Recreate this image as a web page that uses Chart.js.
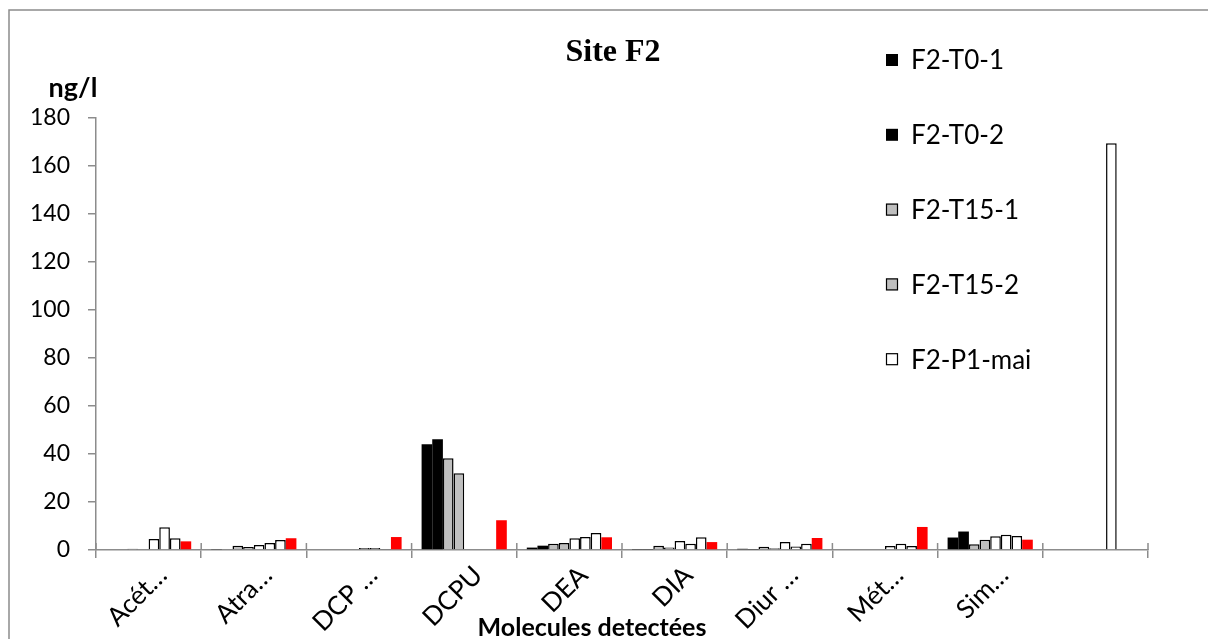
<!DOCTYPE html>
<html>
<head>
<meta charset="utf-8">
<title>Site F2</title>
<script src="https://cdn.jsdelivr.net/npm/chart.js@4"></script>
<style>
  html, body { margin: 0; padding: 0; background: #fff; }
  #wrap { width: 1208px; height: 639px; }
</style>
</head>
<body>
<div id="wrap"><canvas id="chart" width="1208" height="639"></canvas></div>
<script>
// categories (labels truncated as in the original)
const molecules = ['Acét…', 'Atra…', 'DCP …', 'DCPU', 'DEA', 'DIA', 'Diur …', 'Mét…', 'Sim…', ''];

// concentrations in ng/l
const t0_1 = [0.3, 0.4, 0, 44.1, 1.0, 0.2, 0.5, 0, 5.2, 0];
const t0_2 = [0, 0, 0, 46.1, 1.8, 0.2, 0.2, 0, 7.7, 0];
const t15_1 = [0.5, 1.8, 0, 38.2, 2.6, 1.8, 1.4, 0, 2.4, 0];
const t15_2 = [0, 1.3, 0, 32.0, 2.9, 1.0, 0.7, 0, 4.3, 0];
const p1_mai = [4.6, 2.1, 0.8, 0, 4.9, 3.8, 3.3, 1.7, 5.7, 0];
const p2_mai = [9.5, 2.9, 0.8, 0, 5.4, 2.6, 1.5, 2.6, 6.4, 169.5];
const p3_mai = [4.9, 4.2, 0.4, 0, 7.1, 5.3, 2.6, 1.7, 5.8, 0];
const p4_mai = [3.6, 4.9, 5.4, 12.4, 5.3, 3.3, 5.0, 9.6, 4.3, 0];

const yTicks = [0, 20, 40, 60, 80, 100, 120, 140, 160, 180];

const AXIS_GREY = '#8c8c8c';
const FONT = 'Lato, "Open Sans", sans-serif';

function bar(label, values, fill, border) {
  return {
    label: label,
    data: values,
    backgroundColor: fill,
    borderColor: border || fill,
    borderWidth: border ? 1.5 : 0,
    inLegend: true,
  };
}

const datasets = [
  bar('F2-T0-1', t0_1, '#000000'),
  bar('F2-T0-2', t0_2, '#000000'),
  bar('F2-T15-1', t15_1, '#bfbfbf', '#000000'),
  bar('F2-T15-2', t15_2, '#bfbfbf', '#000000'),
  bar('F2-P1-mai', p1_mai, '#ffffff', '#000000'),
  bar('F2-P2-mai', p2_mai, '#ffffff', '#000000'),
  bar('F2-P3-mai', p3_mai, '#ffffff', '#000000'),
  bar('F2-P4-mai', p4_mai, '#ff0000'),
];
// the original legend is cut off after five entries
datasets.slice(5).forEach((d) => { d.inLegend = false; });

// texts, frame and the floating legend drawn on the canvas
const decorations = {
  id: 'decorations',
  afterDraw(chart) {
    const ctx = chart.ctx;
    ctx.save();

    // outer frame (only top and left are inside the picture)
    ctx.strokeStyle = AXIS_GREY;
    ctx.lineWidth = 1.5;
    ctx.beginPath();
    ctx.moveTo(9, 639);
    ctx.lineTo(9, 10);
    ctx.lineTo(1208, 10);
    ctx.stroke();

    // x axis tick marks also reach a little above the axis line
    const x = chart.scales.x;
    ctx.beginPath();
    for (let i = 0; i <= molecules.length; i++) {
      const px = x.left + (x.width * i) / molecules.length;
      ctx.moveTo(px, x.top - 7);
      ctx.lineTo(px, x.top);
    }
    ctx.stroke();

    ctx.fillStyle = '#000';
    ctx.textAlign = 'center';
    ctx.textBaseline = 'alphabetic';
    ctx.font = 'bold 32px "Liberation Serif", "Times New Roman", serif';
    ctx.fillText('Site F2', 613, 61);

    ctx.font = 'bold 27px ' + FONT;
    ctx.fillText('ng/l', 73, 97);

    ctx.font = 'bold 25px ' + FONT;
    ctx.fillText('Molecules detectées', 592, 636);

    // legend
    ctx.textAlign = 'left';
    ctx.textBaseline = 'middle';
    ctx.font = '26px ' + FONT;
    const rows = chart.data.datasets.filter((d) => d.inLegend);
    rows.forEach((d, i) => {
      const y = 60 + i * 74.8;
      ctx.fillStyle = d.backgroundColor;
      ctx.fillRect(886, y - 6, 12, 12);
      if (d.borderWidth) {
        ctx.strokeStyle = d.borderColor;
        ctx.lineWidth = 1.2;
        ctx.strokeRect(886.5, y - 5.5, 11, 11);
      }
      ctx.fillStyle = '#000';
      ctx.fillText(d.label, 911, y + 1);
    });

    ctx.restore();
  },
};

new Chart(document.getElementById('chart'), {
  type: 'bar',
  data: { labels: molecules, datasets: datasets },
  options: {
    responsive: false,
    animation: false,
    layout: { padding: { left: 0, top: 118, right: 60, bottom: 0 } },
    datasets: {
      bar: { categoryPercentage: 0.81, barPercentage: 1.0 },
    },
    plugins: {
      legend: { display: false },
      title: { display: false },
      tooltip: { enabled: false },
    },
    scales: {
      x: {
        z: 1,
        offset: true,
        grid: {
          offset: true,
          drawOnChartArea: false,
          tickLength: 8,
          color: AXIS_GREY,
          lineWidth: 1.5,
        },
        border: { color: AXIS_GREY, width: 1.5 },
        ticks: {
          autoSkip: false,
          minRotation: 45,
          maxRotation: 45,
          padding: 2,
          labelOffset: 14,
          color: '#000',
          font: { family: FONT, size: 26 },
        },
        afterFit(scale) { scale.height = 89; },
      },
      y: {
        z: 1,
        min: 0,
        max: 180,
        afterBuildTicks(scale) { scale.ticks = yTicks.map((v) => ({ value: v })); },
        grid: {
          drawOnChartArea: false,
          tickLength: 8,
          color: AXIS_GREY,
          lineWidth: 1.5,
        },
        border: { color: AXIS_GREY, width: 1.5 },
        ticks: {
          padding: 18,
          color: '#000',
          font: { family: FONT, size: 23 },
        },
        afterFit(scale) { scale.width = 96; },
      },
    },
  },
  plugins: [decorations],
});
</script>
</body>
</html>
